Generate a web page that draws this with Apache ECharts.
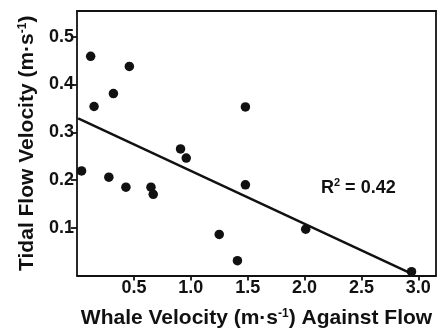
<!DOCTYPE html>
<html>
<head>
<meta charset="utf-8">
<script src="https://cdn.jsdelivr.net/npm/echarts@6/dist/echarts.min.js"></script>
<style>
  html, body {margin: 0; padding: 0; background: #fff;}
  #chart {width: 444px; height: 334px;}
</style>
</head>
<body>
<div id="chart"></div>
<script>
// whale velocity against flow (m/s) and tidal flow velocity (m/s)
const whaleVelocity = [0.04, 0.12, 0.15, 0.32, 0.46, 0.28, 0.43, 0.65, 0.67, 0.91, 0.96, 1.48, 1.48, 1.25, 1.41, 2.01, 2.94];
const tidalFlow = [0.219, 0.459, 0.354, 0.381, 0.438, 0.206, 0.185, 0.185, 0.170, 0.265, 0.246, 0.353, 0.190, 0.086, 0.031, 0.097, 0.008];
// regression line end points
const fitX = [0.01, 2.92];
const fitY = [0.329, 0.006];
const xTicks = [0.5, 1.0, 1.5, 2.0, 2.5, 3.0];
const yTicks = [0.1, 0.2, 0.3, 0.4, 0.5];

const font = '"Liberation Sans", Arial, sans-serif';
const myChart = echarts.init(document.getElementById('chart'));

const nameStyle = {
  fontFamily: font, fontWeight: 'bold', fontSize: 21, color: '#111',
  rich: {
    n: {fontFamily: font, fontWeight: 'bold', fontSize: 21, color: '#111', lineHeight: 24},
    sup: {fontFamily: font, fontWeight: 'bold', fontSize: 12, color: '#111', lineHeight: 24, padding: [0, 0, 9, 0]}
  }
};
const line = {lineStyle: {color: '#111', width: 1.8}};
const labelStyle = {fontFamily: font, fontWeight: 'bold', fontSize: 18, color: '#111'};

myChart.setOption({
  animation: false,
  grid: {left: 77, right: 8, top: 11, bottom: 55},
  xAxis: [{
    type: 'value', min: 0, max: 3.155,
    splitLine: {show: false},
    axisLine: line,
    axisTick: {length: 5, customValues: xTicks, ...line},
    axisLabel: {margin: 4, customValues: xTicks, formatter: v => v.toFixed(1), ...labelStyle},
    name: '{n|Whale Velocity (m·s}{sup|-1}{n|) Against Flow}',
    nameLocation: 'middle', nameGap: 31,
    nameTextStyle: nameStyle
  }, {
    type: 'value', position: 'top', min: 0, max: 3.155,
    splitLine: {show: false}, axisTick: {show: false}, axisLabel: {show: false},
    axisLine: {onZero: false, ...line}
  }],
  yAxis: [{
    type: 'value', min: 0, max: 0.554,
    splitLine: {show: false},
    axisLine: line,
    axisTick: {length: 6, customValues: yTicks, ...line},
    axisLabel: {margin: 3, customValues: yTicks, formatter: v => v.toFixed(1), ...labelStyle},
    name: '{n|Tidal Flow Velocity (m·s}{sup|-1}{n|)}',
    nameLocation: 'middle', nameGap: 38, nameRotate: 90,
    nameTextStyle: nameStyle
  }, {
    type: 'value', position: 'right', min: 0, max: 0.554,
    splitLine: {show: false}, axisTick: {show: false}, axisLabel: {show: false},
    axisLine: {onZero: false, ...line}
  }],
  graphic: [{
    type: 'text', left: 321, top: 177,
    style: {
      text: '{n|R}{sup|2}{n| = 0.42}',
      rich: {
        n: {fontFamily: font, fontWeight: 'bold', fontSize: 18, fill: '#111', lineHeight: 22},
        sup: {fontFamily: font, fontWeight: 'bold', fontSize: 11, fill: '#111', lineHeight: 22, padding: [0, 0, 11, 0]}
      }
    }
  }],
  series: [{
    type: 'line',
    data: fitX.map((x, i) => [x, fitY[i]]),
    symbol: 'none',
    lineStyle: {color: '#111', width: 2.4},
    silent: true
  }, {
    type: 'scatter',
    data: whaleVelocity.map((x, i) => [x, tidalFlow[i]]),
    symbol: 'circle',
    symbolSize: 9.5,
    itemStyle: {color: '#111', opacity: 1}
  }]
});
</script>
</body>
</html>
